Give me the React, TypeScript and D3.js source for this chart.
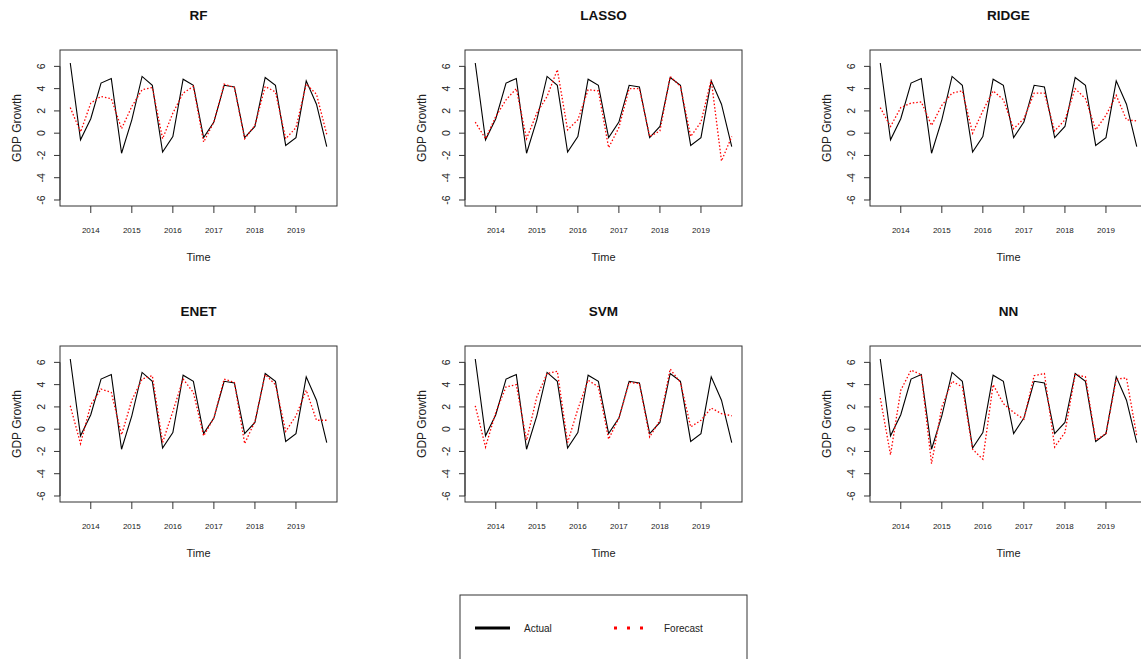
import React from "react";
import * as d3 from "d3";

const START = 2013.5;
const years = [2014, 2015, 2016, 2017, 2018, 2019];
const yTicks = [-6, -4, -2, 0, 2, 4, 6];
const models = ["RF", "LASSO", "RIDGE", "ENET", "SVM", "NN"];

const actual = [6.3, -0.6, 1.3, 4.5, 4.9, -1.8, 1.2, 5.1, 4.3, -1.7, -0.3, 4.85, 4.3, -0.4, 1.0, 4.3, 4.15, -0.4, 0.6, 5.0, 4.3, -1.1, -0.4, 4.7, 2.6, -1.2];

const fcRF = [2.3, 0.1, 2.7, 3.3, 3.1, 0.4, 2.4, 3.9, 4.1, -0.5, 1.8, 3.6, 4.2, -0.8, 1.0, 4.4, 4.1, -0.5, 0.7, 4.2, 3.7, -0.5, 0.5, 4.4, 3.5, -0.1];
const fcLASSO = [1.0, -0.5, 1.5, 3.0, 4.0, -0.5, 1.8, 3.3, 5.7, 0.3, 1.2, 3.9, 3.8, -1.3, 0.5, 4.0, 4.0, -0.3, 0.2, 5.1, 4.2, -0.3, 1.0, 4.8, -2.5, -0.3];
const fcRIDGE = [2.3, 0.6, 2.3, 2.7, 2.8, 0.7, 2.5, 3.6, 3.8, 0.0, 2.0, 3.8, 3.0, 0.4, 1.3, 3.6, 3.6, 0.2, 1.2, 4.0, 3.1, 0.3, 1.6, 3.4, 1.2, 1.1];
const fcENET = [2.1, -1.3, 2.2, 3.6, 3.3, -0.5, 2.6, 4.5, 4.8, -1.2, 1.6, 4.5, 3.3, -0.6, 1.0, 4.5, 4.2, -1.3, 0.7, 4.9, 4.0, -0.2, 1.2, 3.5, 0.8, 0.8];
const fcSVM = [2.1, -1.6, 1.5, 3.8, 4.0, -1.0, 2.9, 5.0, 5.2, -1.2, 1.8, 4.4, 3.8, -0.9, 1.0, 4.2, 4.1, -0.7, 0.8, 5.4, 4.2, 0.2, 0.8, 1.9, 1.4, 1.2];
const fcNN = [2.8, -2.3, 3.5, 5.3, 4.9, -3.1, 2.0, 4.3, 3.8, -1.8, -2.7, 4.0, 2.3, 1.5, 0.9, 4.8, 5.0, -1.6, -0.3, 4.9, 4.7, -1.0, -0.4, 4.5, 4.6, -0.6];

const forecasts = [fcRF, fcLASSO, fcRIDGE, fcENET, fcSVM, fcNN];

const W = 277;
const H = 156;
const FONT = "Liberation Sans, Arial, sans-serif";

function Panel({ title, fc, ox, oy }: { title: string; fc: number[]; ox: number; oy: number }) {
  const x = d3.scaleLinear().domain([2013.25, 2020]).range([0, W]);
  const y = d3.scaleLinear().domain([-6.54, 7.47]).range([H, 0]);
  const t = (i: number) => START + i * 0.25;
  const line = d3
    .line<number>()
    .x((_, i) => x(t(i)))
    .y((d) => y(d));
  return (
    <g transform={`translate(${ox},${oy})`}>
      <text x={W / 2} y={-30} textAnchor="middle" fontSize={13.5} fontWeight="bold" fontFamily={FONT} fill="#111">
        {title}
      </text>
      <rect x={0} y={0} width={W} height={H} fill="none" stroke="#333" strokeWidth={1} />
      <line x1={0} x2={0} y1={y(-6)} y2={y(6)} stroke="#333" />
      {yTicks.map((v) => (
        <g key={v}>
          <line x1={-6} x2={0} y1={y(v)} y2={y(v)} stroke="#333" />
          <text
            transform={`translate(${-19},${y(v)}) rotate(-90)`}
            textAnchor="middle"
            dy="0.35em"
            fontSize={10.5}
            fontFamily={FONT}
            fill="#222"
          >
            {v}
          </text>
        </g>
      ))}
      {years.map((v) => (
        <g key={v}>
          <line x1={x(v)} x2={x(v)} y1={H} y2={H + 7} stroke="#333" />
          <text x={x(v)} y={H + 27} textAnchor="middle" fontSize={8} fontFamily={FONT} fill="#222">
            {v}
          </text>
        </g>
      ))}
      <text x={W / 2} y={H + 55} textAnchor="middle" fontSize={11} fontFamily={FONT} fill="#222">
        Time
      </text>
      <text
        transform={`translate(${-43},${H / 2}) rotate(-90)`}
        textAnchor="middle"
        dy="0.35em"
        fontSize={12}
        fontFamily={FONT}
        fill="#222"
      >
        GDP Growth
      </text>
      <path d={line(actual) || ""} fill="none" stroke="#000" strokeWidth={1.1} />
      <path d={line(fc) || ""} fill="none" stroke="#ff0000" strokeWidth={1.3} strokeDasharray="1.5 2" />
    </g>
  );
}

export default function App() {
  return (
    <svg width={1141} height={659} style={{ position: "absolute", left: 0, top: 0, background: "#fff" }}>
      <rect x={0} y={0} width={1141} height={659} fill="#fff" />
      {models.map((m, k) => (
        <Panel key={m} title={m} fc={forecasts[k]} ox={60 + 405 * (k % 3)} oy={50 + 296 * Math.floor(k / 3)} />
      ))}
      <g>
        <rect x={460} y={595} width={287} height={80} fill="none" stroke="#333" />
        <line x1={475} x2={510} y1={628} y2={628} stroke="#000" strokeWidth={3} />
        <text x={524} y={628} dy="0.35em" fontSize={10} fontFamily={FONT} fill="#222">
          Actual
        </text>
        <line x1={614} x2={645} y1={628} y2={628} stroke="#ff0000" strokeWidth={3} strokeDasharray="3 10" />
        <text x={664} y={628} dy="0.35em" fontSize={10} fontFamily={FONT} fill="#222">
          Forecast
        </text>
      </g>
    </svg>
  );
}
